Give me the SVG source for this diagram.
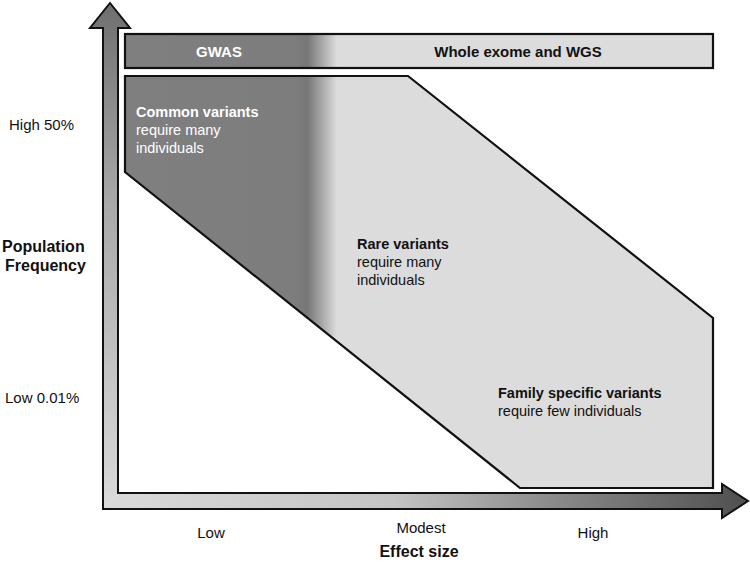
<svg xmlns="http://www.w3.org/2000/svg" width="750" height="562" viewBox="0 0 750 562">
  <style>
    text { font-family: "Liberation Sans", Arial, sans-serif; }
    .b { font-weight: bold; }
    .lab { font-size: 14.5px; fill: #111; }
    .ax { font-size: 15px; fill: #111; }
    .title { font-size: 16px; font-weight: bold; fill: #111; }
    .box { stroke: #111; stroke-width: 2.2; }
    .axline { fill: none; stroke: #111; stroke-width: 2; stroke-linejoin: miter; }
  </style>
  <defs>
    <linearGradient id="gShade" gradientUnits="userSpaceOnUse" x1="125" y1="0" x2="713" y2="0">
      <stop offset="0" stop-color="#7f7f7f"/>
      <stop offset="0.29" stop-color="#7d7d7d"/>
      <stop offset="0.31" stop-color="#777777"/>
      <stop offset="0.335" stop-color="#a8a8a8"/>
      <stop offset="0.36" stop-color="#dcdcdc"/>
      <stop offset="1" stop-color="#dcdcdc"/>
    </linearGradient>
    <linearGradient id="gVert" gradientUnits="userSpaceOnUse" x1="0" y1="3" x2="0" y2="509">
      <stop offset="0" stop-color="#6f6f6f"/>
      <stop offset="0.4" stop-color="#a9a9a9"/>
      <stop offset="1" stop-color="#dadada"/>
    </linearGradient>
    <linearGradient id="gHorz" gradientUnits="userSpaceOnUse" x1="103" y1="0" x2="748" y2="0">
      <stop offset="0" stop-color="#dadada"/>
      <stop offset="0.45" stop-color="#c4c4c4"/>
      <stop offset="0.7" stop-color="#8a8a8a"/>
      <stop offset="1" stop-color="#4f4f4f"/>
    </linearGradient>
  </defs>

  <rect width="750" height="562" fill="#ffffff"/>

  <!-- connectors: axis arrows -->
  <g id="connectors">
    <g id="axes">
      <path d="M110,3 L130,28 L118,28 L118,493 L103,509 L103,28 L90,28 Z" fill="url(#gVert)"/>
      <path d="M118,493 L722,493 L722,484 L748,501 L722,518 L722,509 L103,509 Z" fill="url(#gHorz)"/>
      <path class="axline" d="M110,3 L130,28 L118,28 L118,493 L722,493 L722,484 L748,501 L722,518 L722,509 L103,509 L103,28 L90,28 Z"/>
    </g>
  </g>

  <g id="top-bar">
    <rect class="box" x="125" y="34" width="588" height="34" fill="url(#gShade)"/>
    <g id="gwas">
      <text class="b" x="219" y="57" font-size="15" fill="#ffffff" text-anchor="middle">GWAS</text>
    </g>
    <g id="wgs">
      <text class="b" x="518" y="57" font-size="15" fill="#111" text-anchor="middle">Whole exome and WGS</text>
    </g>
  </g>

  <g id="variant-region">
    <path class="box" d="M125,76 L408,76 L713,318 L713,488 L520,488 L125,172 Z" fill="url(#gShade)"/>
  </g>

  <g id="common-variants">
    <text class="lab b" x="136" y="117" font-size="15" fill="#ffffff" style="fill:#ffffff">Common variants</text>
    <text class="lab" x="136" y="135" style="fill:#ffffff">require many</text>
    <text class="lab" x="136" y="153" style="fill:#ffffff">individuals</text>
  </g>

  <g id="rare-variants">
    <text class="lab b" x="357" y="249" font-size="15">Rare variants</text>
    <text class="lab" x="357" y="267">require many</text>
    <text class="lab" x="357" y="285">individuals</text>
  </g>

  <g id="family-variants">
    <text class="lab b" x="498" y="398" font-size="15">Family specific variants</text>
    <text class="lab" x="498" y="416">require few individuals</text>
  </g>

  <g id="y-axis-labels">
    <text class="ax" x="9" y="130" font-size="14.5">High 50%</text>
    <text class="title" x="2" y="252">Population</text>
    <text class="title" x="5" y="271">Frequency</text>
    <text class="ax" x="5" y="403" font-size="14.5">Low 0.01%</text>
  </g>

  <g id="x-axis-labels">
    <text class="ax" x="211" y="538" text-anchor="middle">Low</text>
    <text class="ax" x="421" y="533" text-anchor="middle">Modest</text>
    <text class="ax" x="593" y="538" text-anchor="middle">High</text>
    <text class="title" x="419" y="557" text-anchor="middle">Effect size</text>
  </g>
</svg>
